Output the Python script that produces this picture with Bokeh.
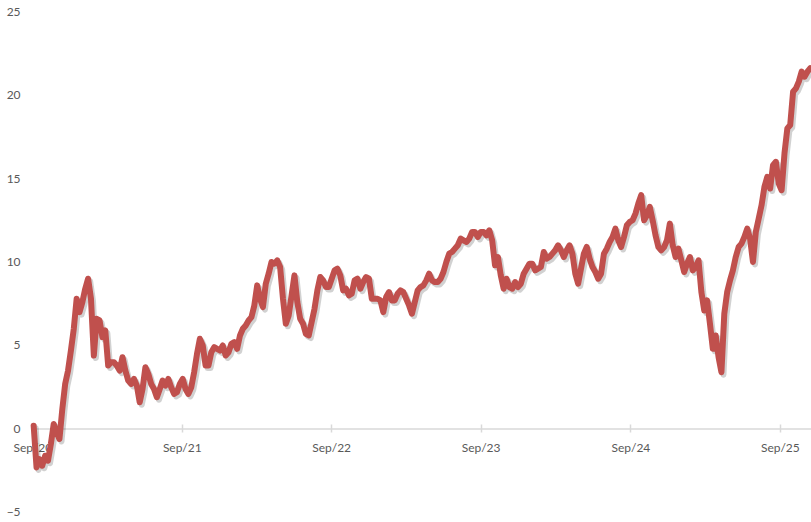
import pandas as pd
from bokeh.plotting import figure
from bokeh.models import ColumnDataSource, FixedTicker, DatetimeTickFormatter, Range1d
from bokeh.transform import dodge
from bokeh.embed import file_html
from bokeh.resources import INLINE

start_date = "2020-09-03"
values = [
    0.2, -2.3, -1.8, -2.2, -1.6, -1.9, -0.9, 0.3, -0.2, -0.6,
    1.2, 2.7, 3.5, 4.7, 6.0, 7.8, 7.0, 7.6, 8.4, 9.0,
    7.8, 4.4, 6.6, 6.5, 5.5, 5.9, 3.8, 4.0, 4.0, 3.8,
    3.5, 4.3, 3.5, 2.9, 2.7, 3.0, 2.6, 1.6, 2.4, 3.7,
    3.3, 2.7, 2.4, 1.9, 2.4, 2.9, 2.6, 3.0, 2.5, 2.1,
    2.2, 2.7, 3.0, 2.4, 2.1, 2.5, 3.4, 4.5, 5.4, 5.0,
    3.8, 3.8, 4.6, 4.9, 4.8, 4.7, 5.0, 4.4, 4.6, 5.1,
    5.2, 4.8, 5.6, 6.0, 6.2, 6.5, 6.7, 7.4, 8.6, 7.8,
    7.3, 8.7, 9.3, 10.0, 9.9, 10.1, 9.7, 7.8, 6.3, 6.8,
    8.0, 9.2, 7.6, 6.6, 6.3, 5.7, 5.6, 6.4, 7.2, 8.3,
    9.1, 8.9, 8.5, 8.5, 9.0, 9.5, 9.6, 9.2, 8.3, 8.4,
    8.0, 8.1, 8.9, 9.0, 8.4, 8.8, 9.1, 9.0, 7.8, 7.8,
    7.8, 7.7, 7.0, 7.9, 8.2, 7.7, 7.7, 8.1, 8.3, 8.2,
    7.8, 7.4, 6.9, 7.6, 8.3, 8.5, 8.6, 8.9, 9.3, 8.9,
    8.8, 8.8, 9.0, 9.4, 10.0, 10.5, 10.6, 10.8, 11.0, 11.4,
    11.3, 11.2, 11.4, 11.8, 11.8, 11.5, 11.8, 11.8, 11.6, 11.9,
    11.3, 9.8, 10.3, 9.2, 8.4, 9.0, 8.5, 8.4, 8.8, 8.5,
    8.7, 9.3, 9.6, 9.9, 9.9, 9.5, 9.6, 9.7, 10.6, 10.2,
    10.3, 10.5, 10.7, 11.0, 10.7, 10.3, 10.7, 11.0, 10.5, 9.3,
    8.7, 9.6, 10.5, 10.9, 10.2, 9.7, 9.4, 9.0, 9.3, 10.5,
    10.8, 11.2, 11.5, 12.0, 11.3, 10.9, 11.5, 12.2, 12.4, 12.5,
    12.9, 13.5, 14.0, 12.5, 12.8, 13.3, 12.5, 11.6, 10.9, 10.7,
    10.9, 11.3, 12.3, 11.0, 10.3, 10.8, 10.1, 9.4, 9.9, 10.3,
    9.5, 9.7, 10.1, 8.2, 7.1, 7.7, 6.3, 4.8, 5.6, 4.3,
    3.4, 6.9, 8.2, 8.9, 9.5, 10.3, 10.9, 11.1, 11.5, 12.0,
    11.4, 10.0, 11.8, 12.6, 13.4, 14.5, 15.1, 14.4, 15.8, 16.0,
    14.7, 14.3, 16.5, 18.0, 18.2, 20.2, 20.4, 20.8, 21.4, 21.1,
    21.4, 21.6,
]
x_tick_dates = ["2020-09-01", "2021-09-01", "2022-09-01",
                "2023-09-01", "2024-09-01", "2025-09-01"]
y_ticks = [-5, 0, 5, 10, 15, 20, 25]
x_start, x_end = "2020-06-14", "2025-11-16"     # visible date window
y_start, y_end = -5.6, 25.66                    # visible value window
y_axis_at = "2020-08-24"                        # where the value labels hang

LINE_COLOR = "#C0504D"
TEXT_COLOR = "#595959"
AXIS_COLOR = "#D9D9D9"
FONT = "Lato"


def ms(d):
    return pd.Timestamp(d).value // 10**6


dates = pd.date_range(start_date, periods=len(values), freq="7D")
src = ColumnDataSource(dict(date=dates, value=values))

p = figure(width=811, height=522, x_axis_type="datetime",
           output_backend="svg", toolbar_location=None,
           x_range=Range1d(pd.Timestamp(x_start), pd.Timestamp(x_end)),
           y_range=Range1d(y_start, y_end),
           min_border=0, min_border_left=0, min_border_right=0,
           min_border_top=0, min_border_bottom=0)
p.outline_line_color = None
p.grid.visible = False
p.background_fill_color = "white"
p.border_fill_color = "white"

# baseline of the category axis, from the first tick to the right edge
p.segment(x0=[ms(x_tick_dates[0])], y0=[0], x1=[ms(x_end)], y1=[0],
          line_color=AXIS_COLOR, line_width=1.5, level="underlay")

# soft shadow, then the series line
day_ms = 86400000
p.line(x=dodge("date", 5 * day_ms), y=dodge("value", -0.15), source=src,
       line_color="black", line_alpha=0.18, line_width=6,
       line_join="round", line_cap="round")
p.line(x="date", y="value", source=src, line_color=LINE_COLOR,
       line_width=6, line_join="round", line_cap="round")

# x axis at y = 0
xa = p.xaxis[0]
xa.fixed_location = 0
xa.level = "underlay"
xa.ticker = FixedTicker(ticks=[ms(d) for d in x_tick_dates])
fmt = "%b/%y"
xa.formatter = DatetimeTickFormatter(
    microseconds=fmt, milliseconds=fmt, seconds=fmt, minsec=fmt, minutes=fmt,
    hourmin=fmt, hours=fmt, days=fmt, months=fmt, years=fmt)
xa.axis_line_color = None
xa.major_tick_line_color = AXIS_COLOR
xa.major_tick_line_width = 1.5
xa.major_tick_in = 4
xa.major_tick_out = 4
xa.minor_tick_line_color = None
xa.major_label_standoff = 7
xa.major_label_text_color = TEXT_COLOR
xa.major_label_text_font = FONT
xa.major_label_text_font_size = "12px"

# value axis: labels only
ya = p.yaxis[0]
ya.fixed_location = ms(y_axis_at)
ya.ticker = FixedTicker(ticks=y_ticks)
ya.axis_line_color = None
ya.major_tick_line_color = None
ya.minor_tick_line_color = None
ya.major_tick_out = 0
ya.major_tick_in = 0
ya.major_label_standoff = 9
ya.major_label_text_color = TEXT_COLOR
ya.major_label_text_font = FONT
ya.major_label_text_font_size = "12px"

open("out.html", "w").write(file_html(p, INLINE))
